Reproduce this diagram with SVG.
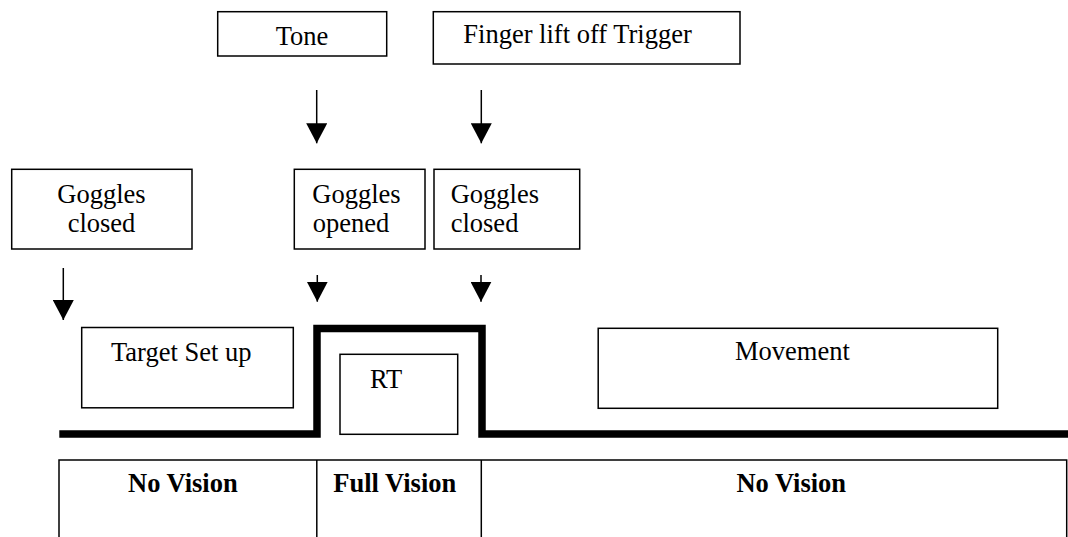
<svg xmlns="http://www.w3.org/2000/svg" width="1068" height="537" viewBox="0 0 1068 537">
<defs>
<marker id="ah" markerUnits="userSpaceOnUse" markerWidth="21" markerHeight="21" refX="20" refY="10.5" orient="auto">
<path d="M0,0 L20,10.5 L0,21 z" fill="#000"/>
</marker>
<style>
.box{fill:#fff;stroke:#000;stroke-width:1.5}
.t{font-family:"Liberation Serif","Times New Roman",serif;font-size:26.5px;fill:#000}
.b{font-weight:bold}
.c{stroke:#000;stroke-width:1.5;fill:none}
.pulse{stroke:#000;stroke-width:7.5;fill:none;stroke-linejoin:miter}
</style>
</defs>
<rect width="1068" height="537" fill="#fff"/>

<g id="tone">
<rect class="box" x="217.7" y="11.7" width="169" height="44.3"/>
<text class="t" x="302" y="45" text-anchor="middle">Tone</text>
</g>
<g id="finger">
<rect class="box" x="433.3" y="11.7" width="306.7" height="52.3"/>
<text class="t" x="463.3" y="43.3">Finger lift off Trigger</text>
</g>
<g id="goggles-closed-1">
<rect class="box" x="11.7" y="169.3" width="180.3" height="79.7"/>
<text class="t" x="101.5" y="202.7" text-anchor="middle">Goggles</text>
<text class="t" x="101.5" y="231.7" text-anchor="middle">closed</text>
</g>
<g id="goggles-opened">
<rect class="box" x="294.3" y="169.3" width="130.7" height="79.7"/>
<text class="t" x="312.3" y="202.7">Goggles</text>
<text class="t" x="312.8" y="231.7">opened</text>
</g>
<g id="goggles-closed-2">
<rect class="box" x="434" y="169.3" width="145.7" height="79.7"/>
<text class="t" x="450.7" y="202.7">Goggles</text>
<text class="t" x="450.7" y="231.7">closed</text>
</g>
<g id="target">
<rect class="box" x="81.7" y="327.5" width="211.6" height="80.3"/>
<text class="t" x="111" y="360.7">Target Set up</text>
</g>
<g id="rt">
<rect class="box" x="340" y="354.3" width="117.7" height="80"/>
<text class="t" x="370" y="387.7">RT</text>
</g>
<g id="movement">
<rect class="box" x="598.2" y="328.3" width="399.5" height="80"/>
<text class="t" x="735" y="360.3">Movement</text>
</g>
<g id="vision-table">
<rect class="box" x="59" y="460" width="1007.7" height="100"/>
<line class="c" x1="316.8" y1="460" x2="316.8" y2="540"/>
<line class="c" x1="481.3" y1="460" x2="481.3" y2="540"/>
<text class="t b" x="128" y="492.3">No Vision</text>
<text class="t b" x="333.3" y="492.3">Full Vision</text>
<text class="t b" x="736.4" y="492.3">No Vision</text>
</g>

<g id="connectors">
<line class="c" x1="316.7" y1="90" x2="316.7" y2="143.3" marker-end="url(#ah)"/>
<line class="c" x1="481.3" y1="90" x2="481.3" y2="143.3" marker-end="url(#ah)"/>
<line class="c" x1="63.3" y1="268" x2="63.3" y2="320" marker-end="url(#ah)"/>
<line class="c" x1="317.3" y1="275" x2="317.3" y2="301.7" marker-end="url(#ah)"/>
<line class="c" x1="481" y1="275" x2="481" y2="301.7" marker-end="url(#ah)"/>
<polyline class="pulse" points="59.3,434 317,434 317,328.6 482,328.6 482,434 1068,434"/>
</g>
</svg>
